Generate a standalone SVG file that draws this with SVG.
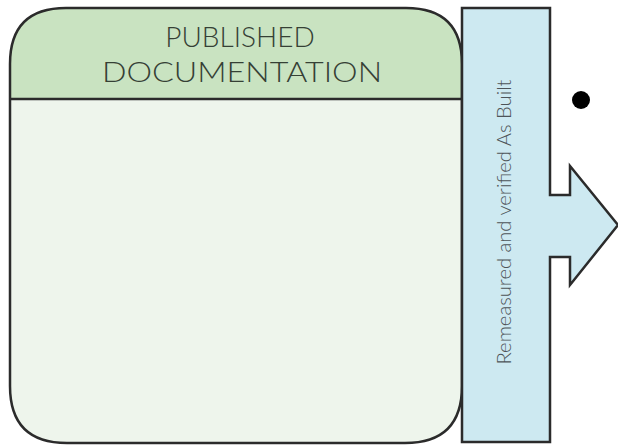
<svg xmlns="http://www.w3.org/2000/svg" width="618" height="446" viewBox="0 0 618 446">
<style>
.stk{stroke:#2b2b2b;stroke-width:2.5;stroke-linejoin:miter}
.ttl{font-family:Lato,"Open Sans","Liberation Sans",sans-serif;font-weight:300;font-size:28px;fill:#354035;text-anchor:middle}
.vt{font-family:Lato,"Open Sans","Liberation Sans",sans-serif;font-weight:300;font-size:19px;fill:#4d5458;text-anchor:middle}
</style>
<rect width="618" height="446" fill="#ffffff"/>
<g id="published-documentation">
<path d="M10 99 V64 Q10 8 66 8 H406 Q462 8 462 64 V99 Z" fill="#c9e3c1"/>
<path d="M10 99 H462 V386 Q462 443 405 443 H67 Q10 443 10 386 Z" fill="#eef5ec"/>
<path class="stk" d="M10 99 H462" fill="none"/>
<path class="stk" d="M66 8 H406 Q462 8 462 64 V386 Q462 443 405 443 H67 Q10 443 10 386 V64 Q10 8 66 8 Z" fill="none"/>
<text class="ttl" x="240" y="47">PUBLISHED</text>
<text class="ttl" x="242" y="82" textLength="280" lengthAdjust="spacingAndGlyphs">DOCUMENTATION</text>
</g>
<g id="as-built-arrow">
<path class="stk" d="M462 8 H550 V195 H570 V166 L618 225 L570 285 V257 H550 V442 H462 Z" fill="#cde9f1"/>
<text class="vt" transform="translate(511 222) rotate(-90)" textLength="285" lengthAdjust="spacingAndGlyphs">Remeasured and verified As Built</text>
</g>
<g id="bullet">
<circle cx="581" cy="100" r="9" fill="#000000"/>
</g>
</svg>
